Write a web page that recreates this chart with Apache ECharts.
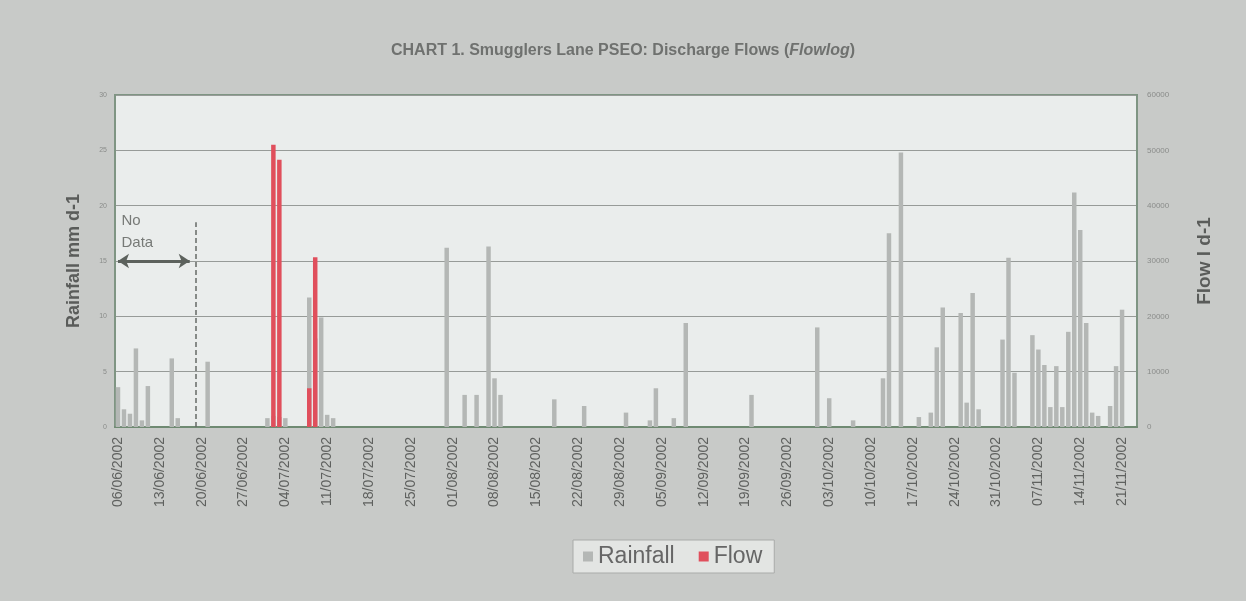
<!DOCTYPE html>
<html>
<head>
<meta charset="utf-8">
<script src="https://cdn.jsdelivr.net/npm/echarts@6/dist/echarts.min.js"></script>
<style>
html,body{margin:0;padding:0;background:#c8cac8;}
#chart{width:1246px;height:601px;}
</style>
</head>
<body>
<div id="chart"></div>
<script>
// Categories: one per day, 06/06/2002 .. 23/11/2002
var startDay = [2002, 5, 6];
var dayCount = 171;
var categories = [];
for (var i = 0; i < dayCount; i++) {
  var d = new Date(Date.UTC(startDay[0], startDay[1], startDay[2] + i));
  var dd = String(d.getUTCDate()).padStart(2, '0');
  var mm = String(d.getUTCMonth() + 1).padStart(2, '0');
  categories.push(dd + '/' + mm + '/' + d.getUTCFullYear());
}

// Rainfall (mm d-1), only days with rain
var rainfall = [
  ['06/06/2002', 3.6], ['07/06/2002', 1.6], ['08/06/2002', 1.2], ['09/06/2002', 7.1],
  ['10/06/2002', 0.6], ['11/06/2002', 3.7], ['15/06/2002', 6.2], ['16/06/2002', 0.8],
  ['21/06/2002', 5.9], ['01/07/2002', 0.8], ['02/07/2002', 1.0], ['03/07/2002', 0.9],
  ['04/07/2002', 0.8], ['08/07/2002', 11.7], ['09/07/2002', 8.0], ['10/07/2002', 9.9],
  ['11/07/2002', 1.1], ['12/07/2002', 0.8], ['31/07/2002', 16.2], ['03/08/2002', 2.9],
  ['05/08/2002', 2.9], ['07/08/2002', 16.3], ['08/08/2002', 4.4], ['09/08/2002', 2.9],
  ['18/08/2002', 2.5], ['23/08/2002', 1.9], ['30/08/2002', 1.3], ['03/09/2002', 0.6],
  ['04/09/2002', 3.5], ['07/09/2002', 0.8], ['09/09/2002', 9.4], ['20/09/2002', 2.9],
  ['01/10/2002', 9.0], ['03/10/2002', 2.6], ['07/10/2002', 0.6], ['12/10/2002', 4.4],
  ['13/10/2002', 17.5], ['15/10/2002', 24.8], ['18/10/2002', 0.9], ['20/10/2002', 1.3],
  ['21/10/2002', 7.2], ['22/10/2002', 10.8], ['25/10/2002', 10.3], ['26/10/2002', 2.2],
  ['27/10/2002', 12.1], ['28/10/2002', 1.6], ['01/11/2002', 7.9], ['02/11/2002', 15.3],
  ['03/11/2002', 4.9], ['06/11/2002', 8.3], ['07/11/2002', 7.0], ['08/11/2002', 5.6],
  ['09/11/2002', 1.8], ['10/11/2002', 5.5], ['11/11/2002', 1.8], ['12/11/2002', 8.6],
  ['13/11/2002', 21.2], ['14/11/2002', 17.8], ['15/11/2002', 9.4], ['16/11/2002', 1.3],
  ['17/11/2002', 1.0], ['19/11/2002', 1.9], ['20/11/2002', 5.5], ['21/11/2002', 10.6]
];

// Flow (l d-1)
var flow = [
  ['02/07/2002', 51000], ['03/07/2002', 48300], ['08/07/2002', 7000], ['09/07/2002', 30700]
];

// Axis ticks
var rainAxis = {min: 0, max: 30, interval: 5};
var flowAxis = {min: 0, max: 60000, interval: 10000};

// Annotation: no data period
var noDataStart = '06/06/2002';
var noDataEnd = '18/06/2002';
var noDataLevel = 15;
var dataStartLine = '19/06/2002';
var dataStartTop = 18.5;

var chart = echarts.init(document.getElementById('chart'));
chart.setOption({
  backgroundColor: '#c8cac8',
  animation: false,
  title: {
    text: 'CHART 1. Smugglers Lane PSEO: Discharge Flows ({i|Flowlog})',
    left: 'center',
    top: 38,
    textStyle: {
      fontFamily: 'Liberation Sans, Arial, sans-serif',
      fontSize: 16, fontWeight: 'bold', color: '#6f716f',
      rich: {i: {fontStyle: 'italic', fontWeight: 'bold', fontSize: 16, color: '#6f716f', fontFamily: 'Liberation Sans, Arial, sans-serif'}}
    }
  },
  legend: {
    data: ['Rainfall', 'Flow'],
    left: 573,
    top: 540,
    itemWidth: 10, itemHeight: 10, itemGap: 24,
    icon: 'rect',
    backgroundColor: '#e3e5e3',
    borderColor: '#a9aba9', borderWidth: 1,
    padding: [5, 12, 5, 10],
    textStyle: {fontFamily: 'Liberation Sans, Arial, sans-serif', fontSize: 23, color: '#666'}
  },
  grid: {
    left: 115, right: 109, top: 95, bottom: 174,
    show: true, backgroundColor: '#eaedec',
    borderColor: '#7f9583', borderWidth: 2
  },
  xAxis: {
    type: 'category',
    data: categories,
    boundaryGap: true,
    axisLine: {lineStyle: {color: '#6f8a72', width: 2}},
    axisTick: {show: false},
    axisLabel: {
      interval: 6, rotate: 90, fontSize: 14, color: '#5f615f',
      fontFamily: 'Liberation Sans, Arial, sans-serif', margin: 10
    }
  },
  yAxis: [
    {
      type: 'value', min: rainAxis.min, max: rainAxis.max, interval: rainAxis.interval,
      name: 'Rainfall mm d-1', nameLocation: 'middle', nameGap: 32, nameRotate: 90,
      nameTextStyle: {fontFamily: 'Liberation Sans, Arial, sans-serif', fontSize: 18, fontWeight: 'bold', color: '#5a5c5a'},
      axisLine: {show: true, lineStyle: {color: '#7f9583', width: 2}},
      axisTick: {show: false},
      axisLabel: {fontSize: 7, color: '#8a8c8a', margin: 8},
      splitLine: {lineStyle: {color: '#979b98', width: 1}}
    },
    {
      type: 'value', min: flowAxis.min, max: flowAxis.max, interval: flowAxis.interval,
      name: 'Flow l d-1', nameLocation: 'middle', nameGap: 58, nameRotate: 90,
      nameTextStyle: {fontFamily: 'Liberation Sans, Arial, sans-serif', fontSize: 19, fontWeight: 'bold', color: '#5a5c5a'},
      axisLine: {show: true, lineStyle: {color: '#7f9583', width: 2}},
      axisTick: {show: false},
      axisLabel: {fontSize: 8, color: '#8a8c8a', margin: 10, formatter: function (v) { return String(v); }},
      splitLine: {show: false}
    }
  ],
  series: [
    {
      name: 'Rainfall', type: 'bar', yAxisIndex: 0,
      data: rainfall,
      barWidth: '75%', barGap: '-100%',
      itemStyle: {color: '#b4b7b5'},
      markLine: {
        silent: true, animation: false,
        label: {show: false},
        data: [
          [{coord: [dataStartLine, 0], symbol: 'none'}, {coord: [dataStartLine, dataStartTop], symbol: 'none', lineStyle: {color: '#666a66', width: 1.5, type: [5, 3]}}],
          [{coord: [noDataStart, noDataLevel], symbol: 'arrow', symbolSize: 11}, {coord: [noDataEnd, noDataLevel], symbol: 'arrow', symbolSize: 11, lineStyle: {color: '#5d625d', width: 3, type: 'solid'}}]
        ]
      },
      markPoint: {
        silent: true, animation: false,
        symbol: 'rect', symbolSize: 1,
        itemStyle: {color: 'rgba(0,0,0,0)'},
        data: [{
          coord: [noDataStart, 17.6],
          label: {
            show: true, formatter: 'No\nData', position: 'right', distance: 3,
            align: 'left', fontSize: 15, lineHeight: 22, color: '#777a77',
            fontFamily: 'Liberation Sans, Arial, sans-serif'
          }
        }]
      }
    },
    {
      name: 'Flow', type: 'bar', yAxisIndex: 1,
      data: flow,
      barWidth: '75%', barGap: '-100%',
      itemStyle: {color: '#e04f5c'}
    }
  ]
});
</script>
</body>
</html>
